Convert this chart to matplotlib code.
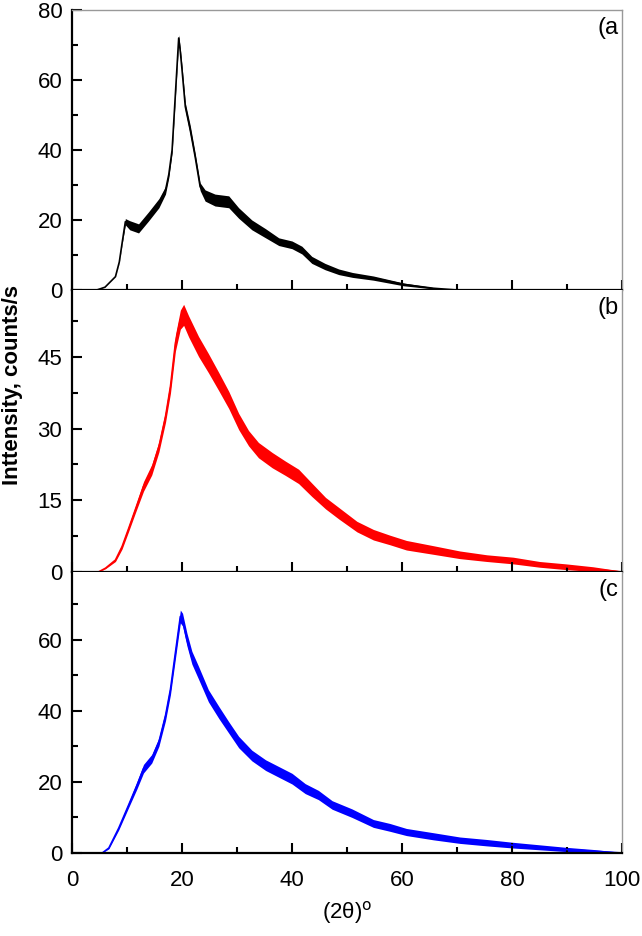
import matplotlib
matplotlib.use("Agg")
import matplotlib.pyplot as plt
import numpy as np

# 2theta (deg), intensity (counts/s) and half-width of the noise band
x_a = [0, 4.5, 6, 7.9, 8.6, 9.1, 9.7, 10.5, 12.1, 13.9, 15.8, 17.0, 17.6, 18.2, 18.8, 19.1,
       19.4, 19.7, 20.0, 20.6, 21.5, 22.4, 23.3, 24.2, 26.0, 28.5, 30.3, 32.7, 35.2, 37.6,
       40.0, 41.8, 43.6, 46.0, 48.5, 51.0, 54.8, 60.3, 65.7, 70, 100]
y_a = [0, 0, 0.8, 3.8, 8.0, 13.3, 19.5, 18.5, 17.6, 21, 24.8, 28.5, 33, 40, 56, 64,
       72, 68, 63, 52.4, 45.7, 38, 29.5, 27, 25.7, 25.2, 22, 18.6, 16.2, 13.8,
       12.9, 11.4, 8.6, 6.7, 5.2, 4.3, 3.4, 1.6, 0.5, 0, 0]
hw_a = [0, 0, 0, 0, 0.1, 0.3, 0.9, 1.3, 1.3, 1.3, 1.3, 1.1, 0.9, 0.9, 0.9, 0.9,
        0.9, 0.9, 1.1, 1.1, 1.3, 1.1, 1.1, 1.6, 1.7, 1.7, 1.5, 1.4, 1.3, 1.1,
        1.1, 1.1, 1.0, 0.9, 0.8, 0.7, 0.6, 0.4, 0.2, 0, 0]

x_b = [0, 4.8, 6.1, 7.9, 9.1, 10.3, 11.5, 13.0, 14.5, 15.8, 17.0, 17.9, 18.8, 19.7, 20.3,
       21.2, 23.0, 24.8, 26.7, 28.5, 30.3, 32.1, 33.9, 36.4, 38.8, 41.2, 43.6, 46.1, 48.5,
       51.8, 54.8, 57.8, 60.8, 65.7, 70.5, 75.4, 80.2, 85.0, 89.8, 94.7, 100]
y_b = [0, 0, 0.8, 2.5, 5.3, 9.1, 13, 17.9, 21.4, 26.2, 32.5, 38.8, 47.9, 52.8, 53.8,
       51.4, 47.2, 43.7, 39.8, 36, 31.5, 28, 25.5, 23.4, 21.7, 20, 17.2, 14.4, 12.3,
       9.5, 7.8, 6.7, 5.6, 4.6, 3.6, 2.9, 2.4, 1.6, 1.1, 0.6, 0]
hw_b = [0, 0, 0.1, 0.3, 0.5, 0.6, 0.7, 1.0, 1.1, 1.1, 1.2, 1.4, 1.7, 2.0, 2.2,
        2.2, 2.1, 2.0, 1.9, 1.8, 1.7, 1.6, 1.6, 1.6, 1.5, 1.5, 1.4, 1.2, 1.2,
        1.1, 1.1, 1.0, 1.0, 0.9, 0.8, 0.7, 0.7, 0.6, 0.6, 0.5, 0.2]

x_c = [0, 5.5, 6.7, 8.5, 10.3, 11.8, 13.0, 14.5, 15.8, 17.0, 17.9, 18.8, 19.7, 20.1,
       20.9, 21.8, 23.0, 24.8, 26.7, 28.5, 30.3, 32.7, 35.2, 37.6, 40.0, 42.4, 44.8,
       47.3, 50.9, 54.8, 57.8, 60.8, 65.7, 70.5, 75.4, 80.2, 85.0, 89.8, 94.7, 100]
y_c = [0, 0, 1.4, 7, 13.5, 19, 23.7, 26.5, 31.2, 38.6, 46, 56.3, 66.5, 65.6,
       60, 54.9, 50.7, 44.2, 39.5, 35.3, 31.2, 27.4, 24.7, 22.8, 20.9, 18.1, 16.3,
       13.5, 11.2, 8.3, 7.2, 5.9, 4.7, 3.6, 2.9, 2.2, 1.6, 1.0, 0.5, 0]
hw_c = [0, 0, 0.2, 0.5, 0.7, 1.0, 1.2, 1.2, 1.2, 1.4, 1.5, 1.7, 1.8, 1.8,
        1.8, 1.8, 1.8, 1.7, 1.7, 1.6, 1.6, 1.5, 1.5, 1.5, 1.5, 1.4, 1.3,
        1.2, 1.2, 1.1, 1.1, 1.0, 1.0, 0.9, 0.9, 0.8, 0.7, 0.6, 0.5, 0.2]

panels = [
    (x_a, y_a, hw_a, "black", "(a", 80, [0, 20, 40, 60, 80], 10),
    (x_b, y_b, hw_b, "red", "(b", 59, [0, 15, 30, 45], 7.5),
    (x_c, y_c, hw_c, "blue", "(c", 79, [0, 20, 40, 60], 10),
]

plt.rcParams["font.family"] = ["Liberation Sans", "DejaVu Sans"]
plt.rcParams["font.size"] = 16

fig = plt.figure(figsize=(6.42, 9.36), dpi=100)
left, right = 72 / 642, 622 / 642
edges = [10, 290, 572, 853]

for i, (x, y, hw, col, tag, ymax, yt, ymin_step) in enumerate(panels):
    top = 1 - edges[i] / 936
    bot = 1 - edges[i + 1] / 936
    ax = fig.add_axes([left, bot, right - left, top - bot])
    x = np.array(x)
    y = np.array(y)
    hw = np.array(hw)
    ax.fill_between(x, y - hw, y + hw, color=col, lw=0)
    ax.plot(x, y, color=col, lw=1.2)
    ax.set_xlim(0, 100)
    ax.set_ylim(0, ymax)
    ax.set_yticks(yt)
    ax.set_yticks(np.arange(0, ymax, ymin_step), minor=True)
    ax.set_xticks([0, 20, 40, 60, 80, 100])
    ax.set_xticks(np.arange(10, 100, 20), minor=True)
    ax.tick_params(which="both", direction="in", width=1.5, top=False, right=False)
    ax.tick_params(which="major", length=7.5, labelsize=16)
    ax.tick_params(which="minor", length=4)
    ax.tick_params(axis="y", pad=7)
    ax.tick_params(axis="x", pad=12)
    if i < 2:
        ax.tick_params(axis="x", labelbottom=False)
    for s in ("left", "bottom"):
        ax.spines[s].set_linewidth(1.6)
        ax.spines[s].set_color("black")
    for s in ("top", "right"):
        ax.spines[s].set_linewidth(1.0)
        ax.spines[s].set_color("#999999")
    if i > 0:
        ax.spines["top"].set_visible(False)
    ax.text(0.993, 0.975, tag, transform=ax.transAxes, ha="right", va="top", fontsize=17)

fig.text(0.5 * (left + right), 1 - 913 / 936, "(2θ)$^{\\mathrm{o}}$", ha="center", va="center",
         fontsize=16)
fig.text(0.02, 1 - 385 / 936, "Inttensity, counts/s", rotation=90, ha="center", va="center",
         fontsize=16, fontweight="bold")

fig.savefig("out.png", dpi=100)
plt.close("all")
